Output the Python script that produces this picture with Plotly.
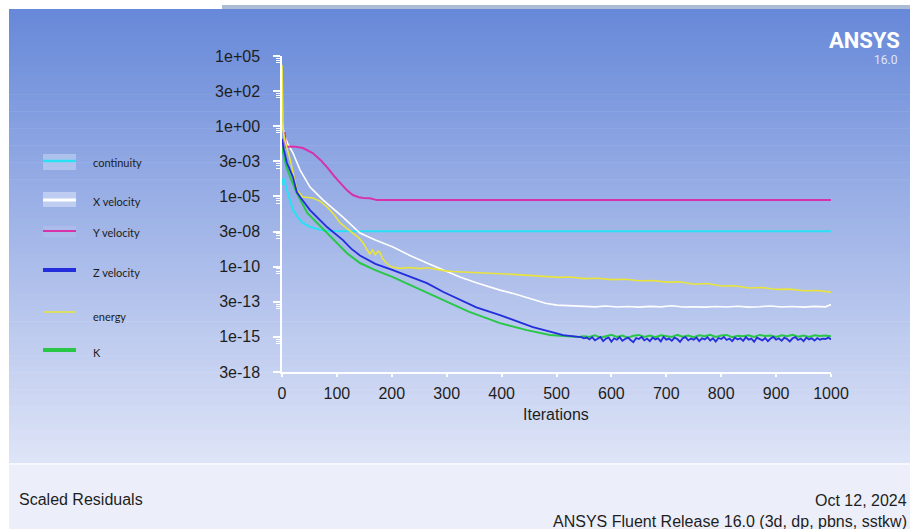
import plotly.graph_objects as go

# ---------------- data (residual exponents, log10) ----------------
iter_ticks = [0, 100, 200, 300, 400, 500, 600, 700, 800, 900, 1000]
y_tick_exps = [5, 2.5, 0, -2.5, -5, -7.5, -10, -12.5, -15, -17.5]
y_tick_labels = ["1e+05", "3e+02", "1e+00", "3e-03", "1e-05", "3e-08", "1e-10", "3e-13", "1e-15", "3e-18"]

continuity_it = [0, 3, 10, 20, 30, 38, 50, 64, 82, 120, 1000]
continuity_exp = [-4.19, -3.69, -4.69, -5.97, -6.55, -6.89, -7.15, -7.32, -7.46, -7.47, -7.47]

xvel_it = [0, 2, 5, 10, 20, 33, 51, 75, 111, 142, 170, 202, 233, 264, 294, 324, 354, 384, 397, 420, 446, 457, 480, 501, 525, 548,
           570, 590, 610, 630, 650, 670, 690, 710, 730, 750, 770, 790, 810, 830, 850, 870, 890, 910, 930, 950, 970, 990, 1000]
xvel_exp = [0.2, -0.27, -0.7, -1.2, -1.91, -3.12, -4.33, -5.26, -6.47, -7.61, -8.1, -8.6, -9.2, -9.74, -10.25, -10.74, -11.15, -11.52, -11.67, -11.9, -12.2, -12.35, -12.6, -12.74, -12.79, -12.82,
            -12.86, -12.8, -12.87, -12.84, -12.88, -12.83, -12.86, -12.78, -12.87, -12.85, -12.88, -12.84, -12.87, -12.82, -12.88, -12.85, -12.8, -12.87, -12.84, -12.88, -12.83, -12.86, -12.7]

yvel_it = [5, 7, 15, 25, 38, 56, 70, 82, 95, 106, 118, 129, 140, 148, 160, 173, 1000]
yvel_exp = [-0.41, -1.48, -1.45, -1.46, -1.55, -1.91, -2.4, -2.91, -3.55, -4.05, -4.55, -4.9, -5.06, -5.11, -5.13, -5.26, -5.26]

zvel_it = [0, 3, 9, 15, 20, 27, 33, 51, 82, 111, 126, 142, 170, 202, 233, 264, 294, 324, 354, 397, 427, 457, 490, 512, 540,
           545, 550, 555, 560, 565, 570, 575, 580, 585, 590, 595, 600, 605, 610, 615, 620, 625, 630, 635, 640, 645, 650, 655, 660,
           665, 670, 675, 680, 685, 690, 695, 700, 705, 710, 715, 720, 725, 730, 735, 740, 745, 750, 755, 760, 765, 770, 775, 780,
           785, 790, 795, 800, 805, 810, 815, 820, 825, 830, 835, 840, 845, 850, 855, 860, 865, 870, 875, 880, 885, 890, 895, 900,
           905, 910, 915, 920, 925, 930, 935, 940, 945, 950, 955, 960, 965, 970, 975, 980, 985, 990, 995, 1000]
zvel_exp = [-0.9, -1.6, -2.62, -3.2, -3.62, -4.69, -5.04, -5.97, -7.18, -8.11, -8.72, -9.2, -9.8, -10.24, -10.7, -11.17, -11.8, -12.38, -12.9, -13.45, -13.9, -14.3, -14.65, -14.87, -15.0,
            -15.02, -15.1, -15.05, -15.18, -15.02, -15.25, -15.1, -15.0, -15.3, -15.12, -15.05, -15.35, -15.1, -15.2, -15.02, -15.28, -15.15, -15.05, -15.22, -15.38, -15.08, -15.15, -15.0, -15.25,
            -15.12, -15.3, -15.05, -15.18, -15.1, -15.32, -15.0, -15.2, -15.12, -15.28, -15.05, -15.15, -15.35, -15.1, -15.02, -15.25, -15.12, -15.2, -15.05, -15.3, -15.1, -15.18, -15.02, -15.26,
            -15.1, -15.34, -15.08, -15.15, -15.0, -15.22, -15.12, -15.3, -15.05, -15.18, -15.1, -15.28, -15.02, -15.2, -15.12, -15.35, -15.05, -15.15, -15.25, -15.08, -15.3, -15.12, -15.0, -15.2,
            -15.1, -15.28, -15.05, -15.15, -15.32, -15.1, -15.02, -15.22, -15.12, -15.3, -15.05, -15.18, -15.1, -15.26, -15.08, -15.2, -15.12, -15.15, -15.05, -15.18, -14.85]

energy_it = [0, 1, 2, 5, 15, 27, 38, 56, 70, 82, 95, 106, 118, 129, 140, 148, 155, 160, 165, 170, 175, 178, 183, 190, 200, 215, 233, 250, 265, 280,
             295, 310, 325, 340, 355, 370, 385, 397, 420, 450, 475, 506, 525, 550, 575, 600, 625, 650, 675, 701, 725, 750, 775, 800, 825, 850, 875, 900, 925, 950, 975, 1000]
energy_exp = [4.36, 0.0, -0.3, -0.98, -2.41, -4.54, -5.04, -5.11, -5.35, -5.75, -6.3, -6.89, -7.3, -7.61, -7.95, -8.32, -8.8, -9.1, -8.82, -9.15, -8.9, -8.95, -9.4, -9.74, -10.03, -10.12, -10.06, -10.14, -10.08, -10.2,
              -10.28, -10.34, -10.36, -10.42, -10.4, -10.47, -10.44, -10.5, -10.55, -10.62, -10.66, -10.76, -10.74, -10.85, -10.82, -10.92, -10.9, -11.0, -10.98, -11.1, -11.08, -11.25, -11.2, -11.38, -11.36, -11.52, -11.48, -11.62, -11.6, -11.72, -11.7, -11.81]

k_it = [0, 2, 8, 15, 27, 46, 82, 118, 142, 170, 202, 233, 264, 300, 340, 397, 446, 488, 512, 540,
        550, 560, 570, 580, 590, 600, 610, 620, 630, 640, 650, 660, 670, 680, 690, 700, 710, 720, 730, 740, 750, 760, 770, 780,
        790, 800, 810, 820, 830, 840, 850, 860, 870, 880, 890, 900, 910, 920, 930, 940, 950, 960, 970, 980, 990, 1000]
k_exp = [-1.5, -1.91, -2.9, -3.62, -4.76, -6.18, -7.61, -9.03, -9.74, -10.25, -10.74, -11.3, -11.88, -12.5, -13.2, -14.02, -14.52, -14.87, -14.94, -15.0,
         -14.95, -15.0, -14.88, -15.05, -14.95, -14.85, -15.0, -14.9, -15.05, -14.92, -14.86, -15.0, -14.9, -15.02, -14.88, -14.95, -15.0, -14.86, -14.98, -14.9, -15.02, -14.88, -14.95, -14.85,
         -15.0, -14.9, -14.86, -15.02, -14.92, -14.95, -14.88, -15.0, -14.86, -14.94, -14.9, -15.0, -14.88, -14.95, -14.85, -14.98, -14.9, -15.0, -14.88, -14.94, -14.9, -14.95]

series_names = ["continuity", "X velocity", "Y velocity", "Z velocity", "energy", "K"]

# ---------------- geometry helpers ----------------
W, H = 910, 529
PL, PR, PT, PB = 282, 831, 56, 372


def px(x):
    return (x - PL) / (PR - PL)


def py(y):
    return (PB - y) / (PB - PT)


def rect(x0, y0, x1, y1, color, layer="below"):
    return dict(type="rect", xref="paper", yref="paper", x0=px(x0), x1=px(x1), y0=py(y1), y1=py(y0),
                fillcolor=color, line=dict(width=0), layer=layer)


shapes = []
# top strip
shapes.append(rect(222, 5, 910, 9, "rgb(172,188,214)"))
# gradient background
n = 80
top_c = (104, 137, 217)
bot_c = (222, 228, 247)
g0, g1 = 9, 463
for i in range(n):
    t = i / (n - 1)
    c = tuple(int(round(top_c[k] + (bot_c[k] - top_c[k]) * t)) for k in range(3))
    y0 = g0 + (g1 - g0) * i / n
    y1 = g0 + (g1 - g0) * (i + 1) / n + 0.6
    shapes.append(rect(9, y0, 910, min(y1, g1), "rgb(%d,%d,%d)" % c))
shapes.append(rect(9, 463, 910, 465, "rgb(246,248,253)"))
shapes.append(rect(9, 465, 910, 529, "rgb(236,239,250)"))

# legend sample boxes / lines
shapes.append(rect(43, 154, 76, 170, "rgba(200,215,245,0.55)", layer="above"))
shapes.append(rect(43, 192, 76, 207, "rgba(215,225,248,0.6)", layer="above"))
shapes.append(rect(43, 226, 76, 237, "rgba(190,200,240,0.35)", layer="above"))

colors = {
    "continuity": "rgb(40,225,245)",
    "X velocity": "rgb(255,255,255)",
    "Y velocity": "rgb(215,50,170)",
    "Z velocity": "rgb(35,45,220)",
    "energy": "rgb(232,228,60)",
    "K": "rgb(40,200,70)",
}
legend_y = [161, 200, 231, 270, 312, 350]
legend_w = [2.5, 3, 2, 4, 1.5, 4]
legend_text_y = [162, 201, 232, 272, 316, 352]
for name, ly, lw in zip(series_names, legend_y, legend_w):
    shapes.append(dict(type="line", xref="paper", yref="paper", x0=px(43), x1=px(76), y0=py(ly), y1=py(ly),
                       line=dict(color=colors[name], width=lw), layer="above"))

annotations = []
for name, ty in zip(series_names, legend_text_y):
    annotations.append(dict(xref="paper", yref="paper", x=px(91), y=py(ty), text=name, showarrow=False,
                            xanchor="left", yanchor="middle", font=dict(family="Lato", size=11, color="#1c1c1c")))

txt_font = dict(family="Liberation Sans", size=16, color="#1e1e1e")
annotations += [
    dict(xref="paper", yref="paper", x=px(902), y=py(41), text="<b>ANSYS</b>", showarrow=False,
         xanchor="right", yanchor="middle", font=dict(family="Roboto", size=22, color="white")),
    dict(xref="paper", yref="paper", x=px(900), y=py(60), text="16.0", showarrow=False,
         xanchor="right", yanchor="middle", font=dict(family="Roboto", size=12, color="rgb(222,230,248)")),
    dict(xref="paper", yref="paper", x=px(17), y=py(499), text="Scaled Residuals", showarrow=False,
         xanchor="left", yanchor="middle", font=txt_font),
    dict(xref="paper", yref="paper", x=px(909), y=py(500), text="Oct 12, 2024", showarrow=False,
         xanchor="right", yanchor="middle", font=txt_font),
    dict(xref="paper", yref="paper", x=px(909), y=py(521), text="ANSYS Fluent Release 16.0 (3d, dp, pbns, sstkw)",
         showarrow=False, xanchor="right", yanchor="middle", font=txt_font),
    dict(xref="paper", yref="paper", x=px(556), y=py(414), text="Iterations", showarrow=False,
         xanchor="center", yanchor="middle", font=dict(family="Liberation Sans", size=16, color="#1e1e1e")),
]

# ---------------- traces ----------------
series = [
    ("continuity", continuity_it, continuity_exp, 2),
    ("X velocity", xvel_it, xvel_exp, 1.6),
    ("Y velocity", yvel_it, yvel_exp, 2),
    ("energy", energy_it, energy_exp, 1.6),
    ("K", k_it, k_exp, 2),
    ("Z velocity", zvel_it, zvel_exp, 1.8),
]
fig = go.Figure()
for name, its, exps, w in series:
    fig.add_trace(go.Scatter(x=its, y=[10 ** e for e in exps], mode="lines", name=name,
                             line=dict(color=colors[name], width=w), showlegend=False))

minor_vals = []
for e in y_tick_exps:
    for d in (0.16, 0.31, 0.48):
        minor_vals.append(10 ** (e - d))

fig.update_layout(
    width=W, height=H, autosize=False,
    margin=dict(l=PL, r=W - PR, t=PT, b=H - PB, pad=0),
    paper_bgcolor="white", plot_bgcolor="rgba(0,0,0,0)",
    shapes=shapes, annotations=annotations, showlegend=False,
    xaxis=dict(range=[0, 1000], tickmode="array", tickvals=iter_ticks, ticktext=[str(v) for v in iter_ticks],
               showgrid=False, zeroline=False, showline=True, linecolor="white", linewidth=1.5,
               ticks="outside", ticklen=3, tickcolor="white", tickwidth=1.5, ticklabelstandoff=3,
               tickfont=dict(family="Liberation Sans", size=16, color="#1e1e1e")),
    yaxis=dict(type="log", range=[-17.5, 5], tickmode="array", tickvals=[10 ** e for e in y_tick_exps],
               ticktext=y_tick_labels, showgrid=False, zeroline=False, showline=True, linecolor="white",
               linewidth=1.5, ticks="outside", ticklen=7, tickcolor="white", tickwidth=1.5,
               ticklabelstandoff=10,
               minor=dict(tickmode="array", tickvals=minor_vals, ticks="outside", ticklen=4,
                          tickcolor="white", tickwidth=1, showgrid=False),
               tickfont=dict(family="Liberation Sans", size=16, color="#1e1e1e")),
)

fig.write_html("out.html")
